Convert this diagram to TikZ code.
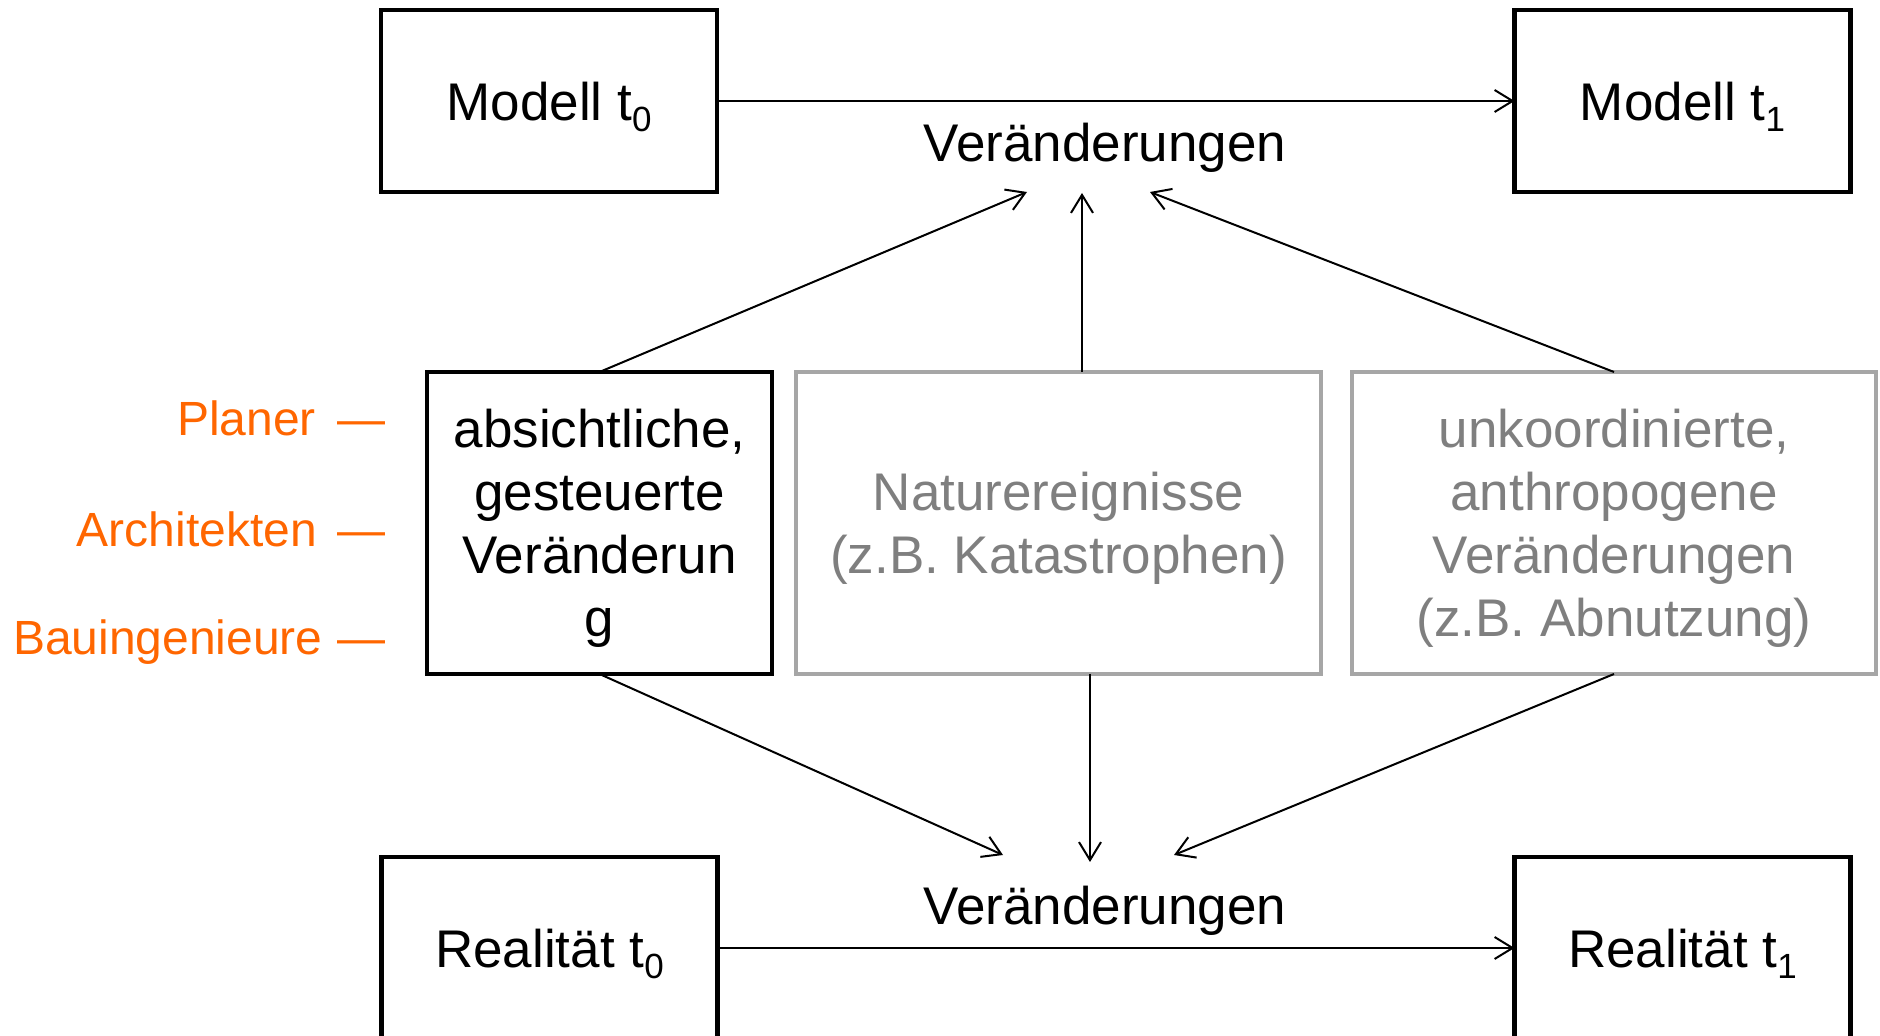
\documentclass[tikz,border=0pt]{standalone}
\usepackage{fontspec}
\setmainfont{Liberation Sans}
\usetikzlibrary{arrows.meta}
\definecolor{boxgray}{HTML}{A6A6A6}
\definecolor{textgray}{HTML}{7F7F7F}
\definecolor{roleorange}{HTML}{FF6600}
% lowered index in the text font
\newcommand\lowidx[1]{\raisebox{-0.21em}{\fontsize{17.5pt}{17.5pt}\selectfont #1}}
\begin{document}
\begin{tikzpicture}[x=0.5pt,y=-0.5pt,
  every node/.style={inner sep=0pt, outer sep=0pt},
  mainfont/.style={font=\fontsize{26.5pt}{31.5pt}\selectfont},
  stagebox/.style={mainfont, draw=black, line width=2.2pt,
    minimum width=168pt, minimum height=91pt, text depth=0pt},
  causebox/.style={mainfont, line width=2.1pt, minimum height=151pt,
    align=center, text depth=0pt},
  flow/.style={-{Straight Barb[length=9pt,width=11pt,line width=1pt]}, line width=1pt},
  role/.style={font=\fontsize{24pt}{28pt}\selectfont, text=roleorange, anchor=base east},
]
\useasboundingbox (0,0) rectangle (1880,1036);
\clip (0,0) rectangle (1880,1036);

% model and reality states
\node[stagebox] (m0) at (549,101) {Modell t\lowidx{0}};
\node[stagebox] (m1) at (1682.5,101) {Modell t\lowidx{1}};
\node[stagebox] (r0) at (549.5,948) {Realität t\lowidx{0}};
\node[stagebox] (r1) at (1682.5,948) {Realität t\lowidx{1}};

% change labels
\node[mainfont, anchor=base] (vtop) at (1105,162) {Veränderungen};
\node[mainfont, anchor=base] (vbot) at (1105,925) {Veränderungen};

% causes of change
\node[causebox, draw=black, minimum width=172.5pt] (c1) at (599.5,523)
  {absichtliche,\\gesteuerte\\Veränderun\\g};
\node[causebox, draw=boxgray, text=textgray, minimum width=262.5pt] (c2) at (1058.5,523)
  {Naturereignisse\\(z.B. Katastrophen)};
\node[causebox, draw=boxgray, text=textgray, minimum width=262pt] (c3) at (1614,523)
  {unkoordinierte,\\anthropogene\\Veränderungen\\(z.B. Abnutzung)};

% actors
\node[role] (p1) at (385.5,436) {Planer\hspace{0.45em}—};
\node[role] (p2) at (385.5,547) {Architekten\hspace{0.43em}—};
\node[role] (p3) at (385.5,655) {Bauingenieure\hspace{0.31em}—};

% arrow ends
\coordinate (tu1) at (1027,192);
\coordinate (tu2) at (1082,193);
\coordinate (tu3) at (1150,192);
\coordinate (td1) at (1003,855);
\coordinate (td2) at (1090,862);
\coordinate (td3) at (1174,855);

% connectors
\draw[flow] (m0.east) -- (m1.west);
\draw[flow] (r0.east) -- (r1.west);
\draw[flow] (c1.north) -- (tu1);
\draw[flow] (c2.north -| tu2) -- (tu2);
\draw[flow] (c3.north) -- (tu3);
\draw[flow] (c1.south) -- (td1);
\draw[flow] (c2.south -| td2) -- (td2);
\draw[flow] (c3.south) -- (td3);
\end{tikzpicture}
\end{document}
